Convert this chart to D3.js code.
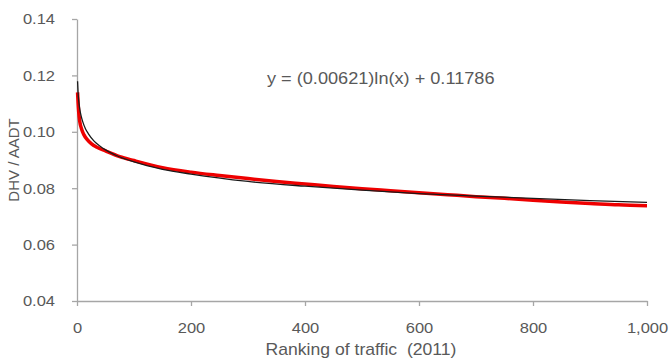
<!DOCTYPE html>
<html>
<head>
<meta charset="utf-8">
<script src="https://cdn.jsdelivr.net/npm/d3@7"></script>
<style>
  body { margin: 0; background: #fff; }
  svg text { font-family: "Liberation Sans", Arial, sans-serif; fill: #595959; }
</style>
</head>
<body>
<svg id="chart" width="670" height="362"></svg>
<script>
// observed DHV/AADT by traffic rank (red markers)
var obsRank = [1, 2, 3, 5, 8, 12, 18, 25, 35, 50, 75, 100, 150, 200, 250, 300, 350, 400,
    450, 500, 550, 600, 650, 700, 750, 800, 850, 900, 950, 1000];
var obsValue = [0.1140, 0.1100, 0.1070, 0.1035, 0.1010, 0.0990, 0.0972, 0.0958, 0.0945, 0.0932,
    0.0912, 0.0898, 0.0873, 0.0857, 0.0845, 0.0834, 0.0824, 0.0815, 0.0806, 0.0798,
    0.0791, 0.0784, 0.0777, 0.0770, 0.0764, 0.0757, 0.0751, 0.0746, 0.0741, 0.0738];

// fitted log trend line (black)
var fitRank = [1, 2, 3, 4, 5, 7, 10, 15, 20, 30, 40, 50, 70, 100, 150, 200, 300, 400,
    500, 600, 700, 800, 900, 1000];
var fitValue = [0.1179, 0.1136, 0.1110, 0.1093, 0.1079, 0.1058, 0.1036, 0.1010, 0.0993, 0.0967,
    0.0950, 0.0936, 0.0915, 0.0893, 0.0867, 0.0850, 0.0824, 0.0807, 0.0793, 0.0781,
    0.0772, 0.0764, 0.0756, 0.0750];

var xTicks = [0, 200, 400, 600, 800, 1000];
var yTicks = [0.04, 0.06, 0.08, 0.10, 0.12, 0.14];
var equationText = "y = (0.00621)ln(x) + 0.11786";

var svg = d3.select("#chart");

var x = d3.scaleLinear().domain([0, 1000]).range([77, 647]);
var y = d3.scaleLinear().domain([0.04, 0.14]).range([301, 19]);

var axisColor = "#a6a6a6";
var stretch = "scale(1.1,1)";   // the source text is a little wide

// y axis
var yAxis = svg.append("g")
    .attr("transform", "translate(77,0)")
    .call(d3.axisLeft(y).tickValues(yTicks).tickSize(5).tickSizeOuter(0).tickPadding(15)
        .tickFormat(d3.format(".2f")));

// x axis
var xAxis = svg.append("g")
    .attr("transform", "translate(0,301)")
    .call(d3.axisBottom(x).tickValues(xTicks).tickSize(5).tickSizeOuter(0).tickPadding(16)
        .tickFormat(d3.format(",")));

[yAxis, xAxis].forEach(function(g) {
    g.select(".domain").attr("stroke", axisColor).attr("stroke-width", 1.3);
    g.selectAll(".tick line").attr("stroke", axisColor).attr("stroke-width", 1.3);
    g.selectAll(".tick text")
        .attr("font-size", 15)
        .attr("font-family", "Liberation Sans, Arial, sans-serif")
        .attr("fill", "#595959")
        .attr("transform", stretch);
});

var obs = obsRank.map(function(r, i) { return [r, obsValue[i]]; });
var fit = fitRank.map(function(r, i) { return [r, fitValue[i]]; });

var line = d3.line()
    .x(function(d) { return x(d[0]); })
    .y(function(d) { return y(d[1]); })
    .curve(d3.curveMonotoneX);

svg.append("path")
    .datum(obs)
    .attr("d", line)
    .attr("fill", "none")
    .attr("stroke", "#ee0000")
    .attr("stroke-width", 3.5);

svg.append("path")
    .datum(fit)
    .attr("d", line)
    .attr("fill", "none")
    .attr("stroke", "#1a1a1a")
    .attr("stroke-width", 1.3);

// equation label
svg.append("text")
    .attr("transform", "translate(267,84) " + stretch)
    .attr("font-size", 16.5)
    .text(equationText);

// axis titles
svg.append("text")
    .attr("transform", "translate(361,355) " + stretch)
    .attr("text-anchor", "middle")
    .attr("font-size", 16)
    .attr("xml:space", "preserve")
    .text("Ranking of traffic  (2011)");

svg.append("text")
    .attr("transform", "translate(19,160) rotate(-90)")
    .attr("text-anchor", "middle")
    .attr("font-size", 15)
    .text("DHV / AADT");
</script>
</body>
</html>
